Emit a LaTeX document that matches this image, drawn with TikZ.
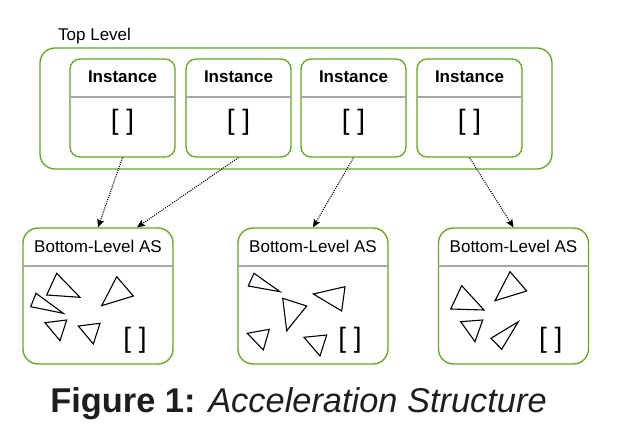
\documentclass[tikz,border=0pt]{standalone}
\usepackage{fontspec}
\setmainfont{Liberation Sans}
\usetikzlibrary{arrows.meta,calc}
\definecolor{grn}{HTML}{60A917}
\definecolor{divgray}{HTML}{A6A6A6}
\definecolor{captxt}{HTML}{1E1E1E}
\tikzset{
  container/.style={draw=grn, line width=1.3pt, rounded corners=15pt, inner sep=0pt},
  instbox/.style={draw=grn, line width=1.3pt, rounded corners=10pt, inner sep=0pt, minimum width=105pt, minimum height=98pt},
  blasbox/.style={draw=grn, line width=1.3pt, rounded corners=15pt, inner sep=0pt, minimum width=150pt, minimum height=136pt},
  divider/.style={draw=divgray, line width=1.2pt},
  lbl/.style={font=\fontsize{17}{20}\selectfont, inner sep=0pt, anchor=base},
  hdr/.style={font=\bfseries\fontsize{17}{20}\selectfont, inner sep=0pt, anchor=base},
  brk/.style={font=\fontsize{28}{32}\selectfont, inner sep=0pt},
  ref/.style={draw=black, line width=1.1pt, dash pattern=on 1pt off 1.2pt, -{Stealth[length=8pt,width=7pt,inset=1.5pt]}},
  tri/.style={draw=black, line width=1.1pt, line join=miter}
}
\begin{document}
\begin{tikzpicture}[x=1pt,y=-1pt]
\useasboundingbox (0,0) rectangle (641,433);
% top level container
\node[container, minimum width=512pt, minimum height=121pt] (top) at (296,108.5) {};
\node[lbl, anchor=base west] (toplbl) at (58,40.7) {Top Level};
% instances
\foreach \n/\x in {1/122.5,2/238.5,3/353.5,4/469.5}{
  \node[instbox] (i\n) at (\x,108) {};
  \draw[divider] ($(i\n.west)+(0,-11)$) -- ($(i\n.east)+(0,-11)$);
  \node[hdr] (ih\n) at (\x,82.7) {Instance};
  \node[brk] (ib\n) at (\x,122) {[ ]};
}
% bottom-level AS boxes
\foreach \n/\x in {1/98,2/313,3/513.5}{
  \node[blasbox] (b\n) at (\x,296) {};
  \draw[divider] ($(b\n.west)+(0,-30)$) -- ($(b\n.east)+(0,-30)$);
  \node[lbl] (bh\n) at (\x,252.3) {Bottom-Level AS};
}
\node[brk] (bb1) at (135,340) {[ ]};
\node[brk] (bb2) at (350,340) {[ ]};
\node[brk] (bb3) at (550.7,340) {[ ]};
% connectors
\coordinate (b1r) at ($(b1.north)+(39,0)$);
\draw[ref] (i1.south) -- (b1.north);
\draw[ref] (i2.south) -- (b1r);
\draw[ref] (i3.south) -- (b2.north);
\draw[ref] (i4.south) -- (b3.north);
% triangles BLAS 1
\draw[tri] (56.7,273.3) -- (46.7,295) -- (80,297.3) -- cycle;
\draw[tri] (116.7,276.7) -- (133.3,296) -- (101.7,305.7) -- cycle;
\draw[tri] (36,293.3) -- (30.7,306.7) -- (63.3,313.3) -- cycle;
\draw[tri] (45,322.7) -- (66.7,320) -- (60,340.7) -- cycle;
\draw[tri] (78.3,326) -- (100,323.3) -- (93.3,344) -- cycle;
% triangles BLAS 2
\draw[tri] (254,273.3) -- (248.3,286) -- (280,291.7) -- cycle;
\draw[tri] (282.7,298.3) -- (306.7,306) -- (286.7,330.7) -- cycle;
\draw[tri] (313.3,294) -- (345,286.7) -- (341.7,311) -- cycle;
\draw[tri] (247.3,333.3) -- (269.3,329.3) -- (263.3,350) -- cycle;
\draw[tri] (304,337.3) -- (326.7,335) -- (320,356) -- cycle;
% triangles BLAS 3
\draw[tri] (461.7,285.7) -- (450.7,309) -- (484,310) -- cycle;
\draw[tri] (510,271.7) -- (495,300.7) -- (526.7,291) -- cycle;
\draw[tri] (460.7,321.7) -- (482.7,320) -- (475,341.7) -- cycle;
\draw[tri] (491,338.3) -- (518.3,321.7) -- (501.7,349.3) -- cycle;
% caption
\node[inner sep=0pt, anchor=base, text=captxt, font=\fontsize{34.4}{40}\selectfont] (cap) at (298.5,412.7) {\textbf{Figure 1:} \textit{Acceleration Structure}};
\end{tikzpicture}
\end{document}
